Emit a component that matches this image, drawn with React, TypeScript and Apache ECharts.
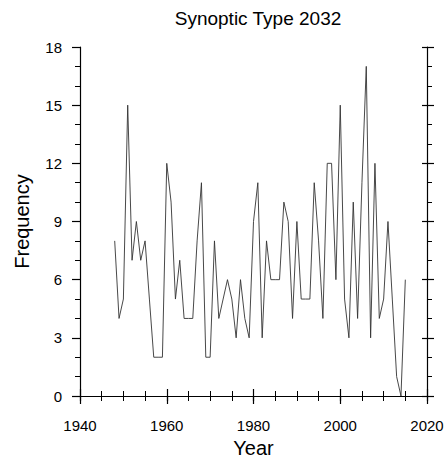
import React, { useEffect, useRef } from "react";
import * as echarts from "echarts";

const years: number[] = [
  1948, 1949, 1950, 1951, 1952, 1953, 1954, 1955, 1956, 1957, 1958, 1959,
  1960, 1961, 1962, 1963, 1964, 1965, 1966, 1967, 1968, 1969, 1970, 1971,
  1972, 1973, 1974, 1975, 1976, 1977, 1978, 1979, 1980, 1981, 1982, 1983,
  1984, 1985, 1986, 1987, 1988, 1989, 1990, 1991, 1992, 1993, 1994, 1995,
  1996, 1997, 1998, 1999, 2000, 2001, 2002, 2003, 2004, 2005, 2006, 2007,
  2008, 2009, 2010, 2011, 2012, 2013, 2014, 2015,
];
const frequency: number[] = [
  8, 4, 5, 15, 7, 9, 7, 8, 5, 2, 2, 2,
  12, 10, 5, 7, 4, 4, 4, 8, 11, 2, 2, 8,
  4, 5, 6, 5, 3, 6, 4, 3, 9, 11, 3, 8,
  6, 6, 6, 10, 9, 4, 9, 5, 5, 5, 11, 8,
  4, 12, 12, 6, 15, 5, 3, 10, 4, 11, 17, 3,
  12, 4, 5, 9, 5, 1, 0, 6,
];
const xTicks: number[] = [1940, 1960, 1980, 2000, 2020];
const yTicks: number[] = [0, 3, 6, 9, 12, 15, 18];

const titleText = "Synoptic Type 2032";
const xName = "Year";
const yName = "Frequency";

const FONT = "Liberation Sans, Arial, Helvetica, sans-serif";

export default function App() {
  const ref = useRef<HTMLDivElement>(null);
  useEffect(() => {
    document.body.style.margin = "0";
    if (!ref.current) return;
    const chart = echarts.init(ref.current, null, { renderer: "svg" });
    const xMin = xTicks[0];
    const xMax = xTicks[xTicks.length - 1];
    const yMin = yTicks[0];
    const yMax = yTicks[yTicks.length - 1];
    const line = { show: true, lineStyle: { color: "#000", width: 1.2 } };
    const baseX = {
      type: "value",
      min: xMin,
      max: xMax,
      interval: 20,
      splitLine: { show: false },
    };
    const baseY = {
      type: "value",
      min: yMin,
      max: yMax,
      interval: 3,
      splitLine: { show: false },
    };
    chart.setOption({
      animation: false,
      backgroundColor: "#fff",
      title: {
        text: titleText,
        left: 253,
        top: 4,
        textAlign: "center",
        textStyle: { fontFamily: FONT, fontSize: 19, fontWeight: "normal", color: "#000" },
      },
      grid: { left: 80, right: 18, top: 47, bottom: 63, containLabel: false, outerBoundsMode: "none" },
      xAxis: [
        {
          ...baseX,
          position: "bottom",
          axisLine: line,
          axisTick: { show: true, inside: false, length: 8, lineStyle: { color: "#000", width: 1.2 } },
          minorTick: { show: true, splitNumber: 4, length: 5, lineStyle: { color: "#000", width: 1 } },
          axisLabel: {
            show: true,
            margin: 22,
            fontFamily: FONT,
            fontSize: 15,
            color: "#000",
            formatter: (v: number) => String(v),
          },
          name: xName,
          nameLocation: "middle",
          nameGap: 42,
          nameTextStyle: { fontFamily: FONT, fontSize: 20, color: "#000" },
        },
        {
          ...baseX,
          position: "top",
          axisLine: line,
          axisTick: { show: true, inside: false, length: 7, lineStyle: { color: "#000", width: 1.2 } },
          minorTick: { show: true, splitNumber: 4, length: 5, lineStyle: { color: "#000", width: 1 } },
          axisLabel: { show: false },
        },
        {
          ...baseX,
          position: "top",
          axisLine: { show: false },
          axisTick: { show: true, inside: true, length: 5, lineStyle: { color: "#000", width: 1.2 } },
          axisLabel: { show: false },
        },
      ],
      yAxis: [
        {
          ...baseY,
          position: "left",
          axisLine: line,
          axisTick: { show: true, inside: false, length: 8, lineStyle: { color: "#000", width: 1.2 } },
          minorTick: { show: true, splitNumber: 3, length: 5, lineStyle: { color: "#000", width: 1 } },
          axisLabel: {
            show: true,
            margin: 18,
            fontFamily: FONT,
            fontSize: 15,
            color: "#000",
            formatter: (v: number) => String(v),
          },
          name: yName,
          nameLocation: "middle",
          nameGap: 48,
          nameTextStyle: { fontFamily: FONT, fontSize: 20, color: "#000" },
        },
        {
          ...baseY,
          position: "right",
          axisLine: line,
          axisTick: { show: true, inside: false, length: 7, lineStyle: { color: "#000", width: 1.2 } },
          minorTick: { show: true, splitNumber: 3, length: 5, lineStyle: { color: "#000", width: 1 } },
          axisLabel: { show: false },
        },
        {
          ...baseY,
          position: "right",
          axisLine: { show: false },
          axisTick: { show: true, inside: true, length: 5, lineStyle: { color: "#000", width: 1.2 } },
          axisLabel: { show: false },
        },
      ],
      series: [
        {
          type: "line",
          xAxisIndex: 0,
          yAxisIndex: 0,
          data: years.map((y, i) => [y, frequency[i]]),
          showSymbol: false,
          symbol: "none",
          lineStyle: { color: "#333", width: 0.9 },
          silent: true,
        },
      ],
    });
    return () => chart.dispose();
  }, []);
  return <div ref={ref} style={{ width: 445, height: 459 }} />;
}
